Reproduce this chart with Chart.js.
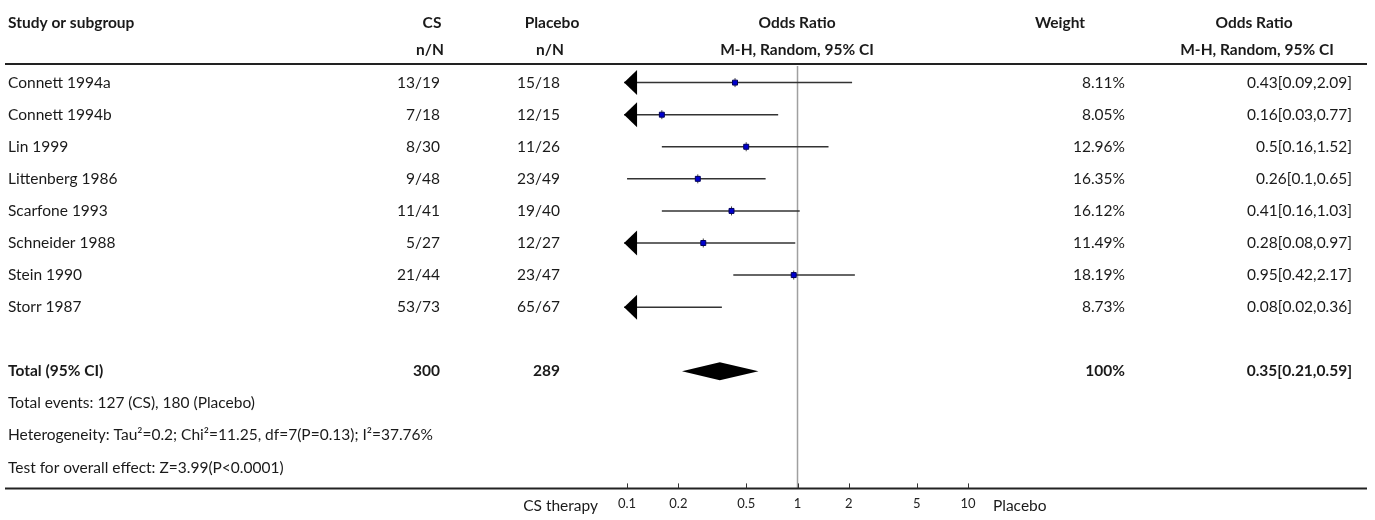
<!DOCTYPE html>
<html>
<head>
<meta charset="utf-8">
<script src="https://cdn.jsdelivr.net/npm/chart.js@4.4.0/dist/chart.umd.min.js"></script>
<style>
  html, body { margin: 0; padding: 0; background: #fff; }
  #wrap { width: 1375px; height: 520px; }
</style>
</head>
<body>
<div id="wrap"><canvas id="forest" width="1375" height="520"></canvas></div>
<script>
// forest plot data
const studies = ['Connett 1994a', 'Connett 1994b', 'Lin 1999', 'Littenberg 1986',
  'Scarfone 1993', 'Schneider 1988', 'Stein 1990', 'Storr 1987'];
const csEvents = ['13/19', '7/18', '8/30', '9/48', '11/41', '5/27', '21/44', '53/73'];
const placeboEvents = ['15/18', '12/15', '11/26', '23/49', '19/40', '12/27', '23/47', '65/67'];
const weights = ['8.11%', '8.05%', '12.96%', '16.35%', '16.12%', '11.49%', '18.19%', '8.73%'];
const oddsRatio = [0.43, 0.16, 0.5, 0.26, 0.41, 0.28, 0.95, 0.08];
const ciLower = [0.09, 0.03, 0.16, 0.1, 0.16, 0.08, 0.42, 0.02];
const ciUpper = [2.09, 0.77, 1.52, 0.65, 1.03, 0.97, 2.17, 0.36];

const totalCS = '300';
const totalPlacebo = '289';
const totalWeight = '100%';
const totalOR = 0.35;
const totalLower = 0.21;
const totalUpper = 0.59;

const footLines = [
  'Total events: 127 (CS), 180 (Placebo)',
  'Heterogeneity: Tau\u00B2=0.2; Chi\u00B2=11.25, df=7(P=0.13); I\u00B2=37.76%',
  'Test for overall effect: Z=3.99(P<0.0001)'
];

const xTicks = [0.1, 0.2, 0.5, 1, 2, 5, 10];
const favoursLeft = 'CS therapy';
const favoursRight = 'Placebo';

// row index of each line in the table (y scale units)
const TOTAL_ROW = 9;
const FONT = 'Lato, "Noto Sans", sans-serif';

function ciText(or, lo, hi) {
  return or + '[' + lo + ',' + hi + ']';
}

const forestPlugin = {
  id: 'forest',
  beforeDatasetsDraw(chart) {
    const { ctx, chartArea, scales: { x, y } } = chart;
    const minShown = xTicks[0], maxShown = xTicks[xTicks.length - 1];
    ctx.save();

    // line of no effect
    ctx.strokeStyle = '#a0a0a0';
    ctx.lineWidth = 1.5;
    ctx.beginPath();
    ctx.moveTo(x.getPixelForValue(1), chartArea.top + 2);
    ctx.lineTo(x.getPixelForValue(1), chartArea.bottom);
    ctx.stroke();

    // confidence intervals
    studies.forEach((s, i) => {
      const py = y.getPixelForValue(i);
      const loOut = ciLower[i] < minShown;
      const hiOut = ciUpper[i] > maxShown;
      const x0 = loOut ? x.getPixelForValue(minShown) - 3 : x.getPixelForValue(ciLower[i]);
      const x1 = hiOut ? x.getPixelForValue(maxShown) + 3 : x.getPixelForValue(ciUpper[i]);
      ctx.strokeStyle = '#333';
      ctx.lineWidth = 1.5;
      ctx.beginPath();
      ctx.moveTo(x0, py);
      ctx.lineTo(x1, py);
      ctx.stroke();
      ctx.fillStyle = '#000';
      if (loOut) {
        ctx.beginPath();
        ctx.moveTo(x0, py);
        ctx.lineTo(x0 + 13, py - 12.5);
        ctx.lineTo(x0 + 13, py + 12.5);
        ctx.closePath();
        ctx.fill();
      }
      if (hiOut) {
        ctx.beginPath();
        ctx.moveTo(x1, py);
        ctx.lineTo(x1 - 13, py - 12.5);
        ctx.lineTo(x1 - 13, py + 12.5);
        ctx.closePath();
        ctx.fill();
      }
      // small tick at the estimate
      if (oddsRatio[i] >= x.min) {
        const px = x.getPixelForValue(oddsRatio[i]);
        ctx.strokeStyle = '#444';
        ctx.lineWidth = 1;
        ctx.beginPath();
        ctx.moveTo(px, py - 4.5);
        ctx.lineTo(px, py + 4.5);
        ctx.stroke();
      }
    });

    // pooled diamond
    const ty = y.getPixelForValue(TOTAL_ROW);
    ctx.fillStyle = '#000';
    ctx.beginPath();
    ctx.moveTo(x.getPixelForValue(totalLower), ty);
    ctx.lineTo(x.getPixelForValue(totalOR), ty - 9);
    ctx.lineTo(x.getPixelForValue(totalUpper), ty);
    ctx.lineTo(x.getPixelForValue(totalOR), ty + 9);
    ctx.closePath();
    ctx.fill();
    ctx.restore();
  },
  afterDraw(chart) {
    const { ctx, chartArea, scales: { x, y } } = chart;
    ctx.save();

    // rules
    ctx.strokeStyle = '#222';
    ctx.lineWidth = 2;
    ctx.beginPath();
    ctx.moveTo(5, chartArea.top);
    ctx.lineTo(1367, chartArea.top);
    ctx.moveTo(5, chartArea.bottom);
    ctx.lineTo(1367, chartArea.bottom);
    ctx.stroke();

    // tick marks pointing up
    ctx.lineWidth = 1;
    ctx.strokeStyle = '#333';
    ctx.beginPath();
    xTicks.forEach(v => {
      const px = Math.round(x.getPixelForValue(v)) + 0.5;
      ctx.moveTo(px, chartArea.bottom);
      ctx.lineTo(px, chartArea.bottom - 5);
    });
    ctx.stroke();

    const text = (str, px, py, align, bold) => {
      ctx.font = (bold ? 'bold ' : '') + '15.5px ' + FONT;
      ctx.textAlign = align;
      ctx.textBaseline = 'middle';
      ctx.fillStyle = '#1a1a1a';
      ctx.fillText(str, px, py);
    };

    // header
    const h1 = 23, h2 = 50;
    text('Study or subgroup', 8, h1, 'left', true);
    text('CS', 432, h1, 'center', true);
    text('n/N', 430, h2, 'center', true);
    text('Placebo', 552, h1, 'center', true);
    text('n/N', 550, h2, 'center', true);
    text('Odds Ratio', 797, h1, 'center', true);
    text('M-H, Random, 95% CI', 797, h2, 'center', true);
    text('Weight', 1060, h1, 'center', true);
    text('Odds Ratio', 1254, h1, 'center', true);
    text('M-H, Random, 95% CI', 1257, h2, 'center', true);

    // study rows
    studies.forEach((s, i) => {
      const py = y.getPixelForValue(i);
      text(s, 8, py, 'left', false);
      text(csEvents[i], 440, py, 'right', false);
      text(placeboEvents[i], 560, py, 'right', false);
      text(weights[i], 1125, py, 'right', false);
      text(ciText(oddsRatio[i], ciLower[i], ciUpper[i]), 1352, py, 'right', false);
    });

    // total row
    const ty = y.getPixelForValue(TOTAL_ROW);
    text('Total (95% CI)', 8, ty, 'left', true);
    text(totalCS, 440, ty, 'right', true);
    text(totalPlacebo, 560, ty, 'right', true);
    text(totalWeight, 1125, ty, 'right', true);
    text(ciText(totalOR, totalLower, totalUpper), 1352, ty, 'right', true);

    footLines.forEach((line, k) => {
      text(line, 8, y.getPixelForValue(TOTAL_ROW + 1 + k), 'left', false);
    });

    // favours labels
    text(favoursLeft, 598, 506, 'right', false);
    text(favoursRight, 993, 506, 'left', false);
    ctx.restore();
  }
};

new Chart(document.getElementById('forest'), {
  type: 'scatter',
  data: {
    datasets: [{
      label: 'Odds ratio',
      data: studies.map((s, i) => ({ x: oddsRatio[i], y: i })),
      pointStyle: 'rect',
      pointRadius: 3.5,
      pointHoverRadius: 3.5,
      backgroundColor: '#0000d0',
      borderColor: '#00005a',
      borderWidth: 1,
      clip: 0
    }]
  },
  options: {
    responsive: false,
    animation: false,
    events: [],
    layout: { padding: { left: 617, right: 397, top: 64, bottom: 0 } },
    plugins: { legend: { display: false }, tooltip: { enabled: false } },
    scales: {
      x: {
        type: 'logarithmic',
        min: 0.0873,
        max: 11.45,
        afterBuildTicks: axis => { axis.ticks = xTicks.map(v => ({ value: v })); },
        ticks: {
          autoSkip: false,
          maxRotation: 0,
          padding: 8,
          color: '#222',
          font: { family: FONT, size: 13 },
          callback: v => String(v)
        },
        grid: { display: false, drawTicks: false },
        border: { display: false }
      },
      y: {
        display: false,
        reverse: true,
        min: -0.58,
        max: 12.65
      }
    }
  },
  plugins: [forestPlugin]
});
</script>
</body>
</html>
